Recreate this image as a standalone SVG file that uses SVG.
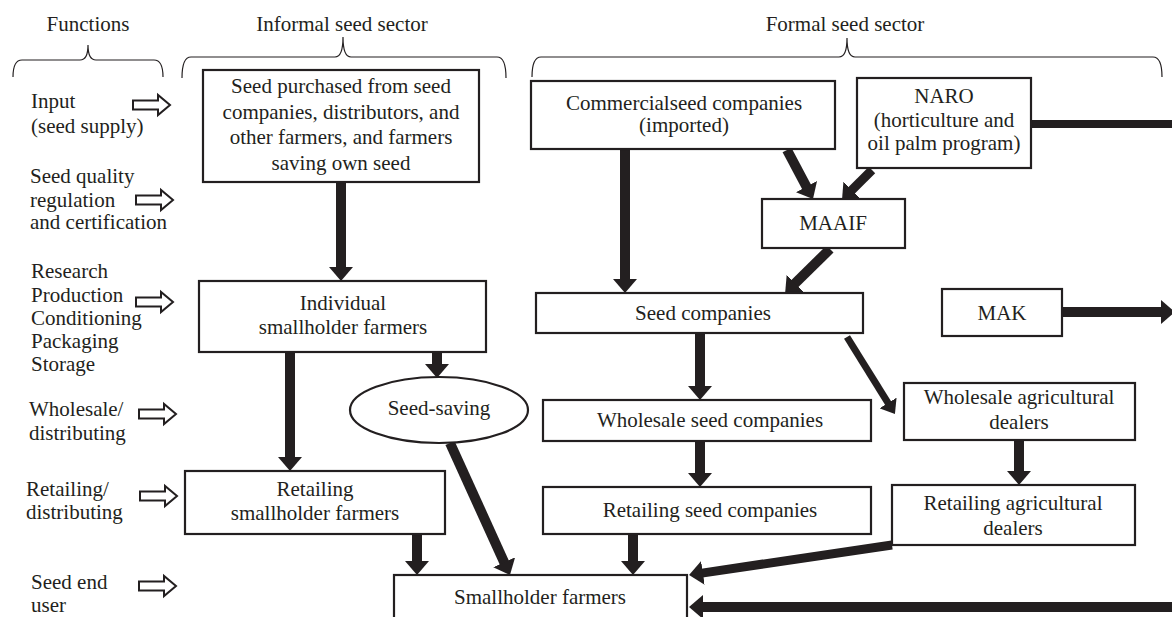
<svg xmlns="http://www.w3.org/2000/svg" width="1172" height="617" viewBox="0 0 1172 617">
<style>
text{font-family:"Liberation Serif","Times New Roman",serif;font-size:21px;fill:#231f20}
.c{text-anchor:middle}
.box{fill:#fff;stroke:#231f20;stroke-width:2.2}
.br{fill:none;stroke:#231f20;stroke-width:1.2}
.hol{fill:#fff;stroke:#231f20;stroke-width:2}
.a{stroke:#231f20;stroke-width:10;fill:none;marker-end:url(#ah)}
.a9{stroke:#231f20;stroke-width:9;fill:none;marker-end:url(#ah)}
.a7{stroke:#231f20;stroke-width:7;fill:none;marker-end:url(#ahs)}
</style>
<defs>
<marker id="ah" markerUnits="userSpaceOnUse" markerWidth="14" markerHeight="24" viewBox="0 0 14 24" refX="1" refY="12" orient="auto"><path d="M0,0 L14,12 L0,24 Z" fill="#231f20"/></marker>
<marker id="ahs" markerUnits="userSpaceOnUse" markerWidth="13" markerHeight="20" viewBox="0 0 13 20" refX="1" refY="10" orient="auto"><path d="M0,0 L13,10 L0,20 Z" fill="#231f20"/></marker>
<path id="hollow" d="M0,-4.5 L25,-4.5 L25,-10 L37,0 L25,10 L25,4.5 L0,4.5 Z"/>
</defs>

<g id="headers">
<text class="c" x="88" y="31">Functions</text>
<text class="c" x="342" y="31">Informal seed sector</text>
<text class="c" x="845" y="31">Formal seed sector</text>
<path class="br" d="M13,77 Q13,60 22,60 L80,60 Q88,60 88,45 Q88,60 96,60 L154,60 Q163,60 163,77"/>
<path class="br" d="M182,78 Q182,57 191,57 L335,57 Q343,57 343,37 Q343,57 351,57 L497,57 Q506,57 506,78"/>
<path class="br" d="M532,77 Q532,57 541,57 L839,57 Q847,57 847,38 Q847,57 855,57 L1153,57 Q1162,57 1162,77"/>
</g>

<g id="functions">
<text x="31" y="108">Input</text>
<text x="31" y="133">(seed supply)</text>
<use href="#hollow" class="hol" x="133" y="105"/>
<text x="30" y="183">Seed quality</text>
<text x="30" y="207">regulation</text>
<text x="30" y="229">and certification</text>
<use href="#hollow" class="hol" x="136" y="200"/>
<text x="31" y="278">Research</text>
<text x="31" y="302">Production</text>
<text x="31" y="325">Conditioning</text>
<text x="31" y="348">Packaging</text>
<text x="31" y="371">Storage</text>
<use href="#hollow" class="hol" x="136" y="302"/>
<text x="29" y="416">Wholesale/</text>
<text x="29" y="440">distributing</text>
<use href="#hollow" class="hol" x="139" y="414"/>
<text x="26" y="496">Retailing/</text>
<text x="26" y="519">distributing</text>
<use href="#hollow" class="hol" x="140" y="496"/>
<text x="31" y="589">Seed end</text>
<text x="31" y="612">user</text>
<use href="#hollow" class="hol" x="139" y="586"/>
</g>

<g id="connectors">
<line class="a" x1="341" y1="182" x2="341" y2="268"/>
<line class="a" x1="290" y1="352" x2="290" y2="458"/>
<line class="a" x1="437" y1="352" x2="437" y2="365"/>
<line class="a" x1="450" y1="443" x2="504.6" y2="563.2"/>
<line class="a" x1="417" y1="534" x2="417" y2="562"/>
<line class="a" x1="625" y1="149" x2="625" y2="280"/>
<line class="a" x1="787" y1="150" x2="806.9" y2="187.5"/>
<line class="a9" x1="872" y1="170" x2="851.2" y2="190.8"/>
<line class="a" x1="830" y1="249" x2="794.4" y2="284"/>
<line class="a" x1="700" y1="333" x2="700" y2="387"/>
<line class="a7" x1="847" y1="337" x2="888.6" y2="403.8"/>
<line class="a" x1="700" y1="441" x2="700" y2="474"/>
<line class="a" x1="1019" y1="440" x2="1019" y2="472"/>
<line class="a" x1="633" y1="534" x2="633" y2="562"/>
<line class="a9" x1="892" y1="545" x2="701.9" y2="573.1"/>
<line class="a" x1="1172" y1="607" x2="702" y2="607"/>
<line class="a" x1="1062" y1="312" x2="1162" y2="312"/>
<line stroke="#231f20" stroke-width="8" x1="1031" y1="124" x2="1172" y2="124"/>
</g>

<g id="seed-purchased">
<rect class="box" x="203" y="70" width="276" height="112"/>
<text class="c" x="341" y="93">Seed purchased from seed</text>
<text class="c" x="341" y="119">companies, distributors, and</text>
<text class="c" x="341" y="144">other farmers, and farmers</text>
<text class="c" x="341" y="170">saving own seed</text>
</g>
<g id="individual">
<rect class="box" x="199" y="281" width="287" height="71"/>
<text class="c" x="343" y="310">Individual</text>
<text class="c" x="343" y="334">smallholder farmers</text>
</g>
<g id="seed-saving">
<ellipse class="box" cx="439" cy="410" rx="89" ry="33"/>
<text class="c" x="439" y="415">Seed-saving</text>
</g>
<g id="retailing-smallholder">
<rect class="box" x="185" y="471" width="260" height="63"/>
<text class="c" x="315" y="496">Retailing</text>
<text class="c" x="315" y="520">smallholder farmers</text>
</g>
<g id="smallholder">
<rect class="box" x="394" y="575" width="293" height="70"/>
<text class="c" x="540" y="604">Smallholder farmers</text>
</g>
<g id="commercial">
<rect class="box" x="531" y="81" width="304" height="68"/>
<text class="c" x="684" y="110">Commercialseed companies</text>
<text class="c" x="684" y="132">(imported)</text>
</g>
<g id="naro">
<rect class="box" x="857" y="78" width="174" height="90"/>
<text class="c" x="944" y="103">NARO</text>
<text class="c" x="944" y="127">(horticulture and</text>
<text class="c" x="944" y="150">oil palm program)</text>
</g>
<g id="maaif">
<rect class="box" x="762" y="199" width="143" height="49"/>
<text class="c" x="833" y="230">MAAIF</text>
</g>
<g id="seed-companies">
<rect class="box" x="536" y="293" width="327" height="40"/>
<text class="c" x="703" y="320">Seed companies</text>
</g>
<g id="mak">
<rect class="box" x="942" y="289" width="120" height="47"/>
<text class="c" x="1002" y="320">MAK</text>
</g>
<g id="wholesale-seed">
<rect class="box" x="543" y="400" width="328" height="41"/>
<text class="c" x="710" y="427">Wholesale seed companies</text>
</g>
<g id="wholesale-ag">
<rect class="box" x="904" y="383" width="231" height="57"/>
<text class="c" x="1019" y="404">Wholesale agricultural</text>
<text class="c" x="1019" y="429">dealers</text>
</g>
<g id="retailing-seed">
<rect class="box" x="543" y="487" width="328" height="47"/>
<text class="c" x="710" y="517">Retailing seed companies</text>
</g>
<g id="retailing-ag">
<rect class="box" x="892" y="485" width="243" height="60"/>
<text class="c" x="1013" y="510">Retailing agricultural</text>
<text class="c" x="1013" y="535">dealers</text>
</g>
</svg>
